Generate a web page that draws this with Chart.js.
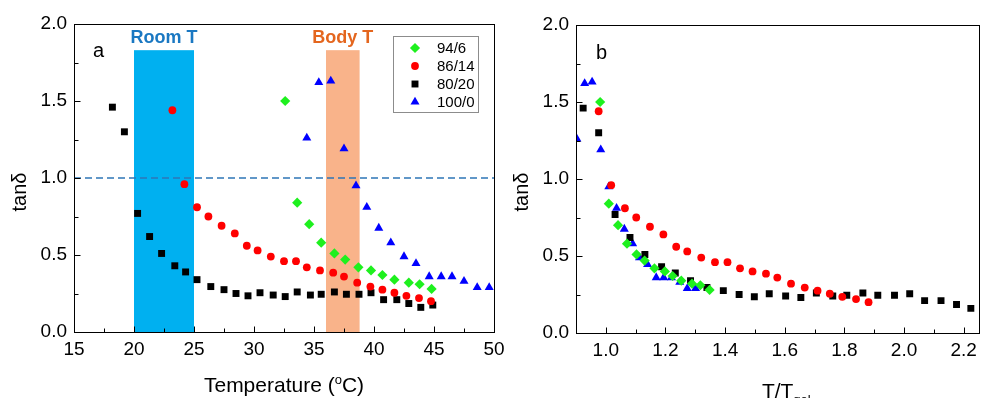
<!DOCTYPE html>
<html>
<head>
<meta charset="utf-8">
<script src="https://cdn.jsdelivr.net/npm/chart.js@4.4.0/dist/chart.umd.min.js"></script>
<style>
  body { margin: 0; background: #fff; width: 983px; height: 398px; position: relative; overflow: hidden; }
  canvas { position: absolute; top: 0; }
  #left { left: 0; }
  #right { left: 500px; }
</style>
</head>
<body>
<canvas id="left" width="520" height="398"></canvas>
<canvas id="right" width="483" height="398"></canvas>
<script>
// series labels (legend order)
const seriesNames = ['94/6', '86/14', '80/20', '100/0'];

// panel a: tan delta vs temperature (°C)
const temp94 = [32.6, 33.6, 34.6, 35.6, 36.7, 37.6, 38.7, 39.75, 40.7, 41.7, 42.9, 43.8, 44.8];
const tan94 = [1.50, 0.84, 0.70, 0.58, 0.51, 0.47, 0.42, 0.40, 0.37, 0.34, 0.32, 0.31, 0.28];

const temp86 = [23.2, 24.2, 25.25, 26.2, 27.3, 28.4, 29.4, 30.3, 31.4, 32.5, 33.5, 34.4, 35.5, 36.6, 37.5, 38.6, 39.7, 40.7, 41.7, 42.7, 43.75, 44.75];
const tan86 = [1.44, 0.96, 0.81, 0.75, 0.69, 0.64, 0.56, 0.53, 0.49, 0.46, 0.46, 0.42, 0.40, 0.385, 0.36, 0.32, 0.295, 0.275, 0.255, 0.235, 0.22, 0.20];

const temp80 = [18.2, 19.2, 20.3, 21.3, 22.3, 23.4, 24.3, 25.25, 26.4, 27.5, 28.5, 29.5, 30.5, 31.6, 32.6, 33.6, 34.7, 35.6, 36.7, 37.7, 38.75, 39.75, 40.8, 41.9, 42.9, 43.9, 44.9];
const tan80 = [1.46, 1.30, 0.77, 0.62, 0.51, 0.43, 0.39, 0.34, 0.295, 0.275, 0.25, 0.235, 0.255, 0.24, 0.23, 0.26, 0.24, 0.245, 0.26, 0.245, 0.245, 0.255, 0.21, 0.21, 0.185, 0.16, 0.175];

const temp100 = [34.4, 35.4, 36.4, 37.5, 38.5, 39.4, 40.4, 41.4, 42.5, 43.5, 44.6, 45.6, 46.5, 47.5, 48.6, 49.6];
const tan100 = [1.26, 1.62, 1.63, 1.19, 0.95, 0.81, 0.675, 0.58, 0.49, 0.445, 0.36, 0.36, 0.36, 0.33, 0.29, 0.29];

// panel b: same tan delta vs T/Tgel
const ratio94 = [0.981, 1.01, 1.041, 1.071, 1.103, 1.13, 1.163, 1.198, 1.224, 1.253, 1.289, 1.317, 1.348];
const ratio86 = [0.976, 1.018, 1.064, 1.102, 1.148, 1.193, 1.236, 1.273, 1.32, 1.366, 1.408, 1.45, 1.492, 1.537, 1.575, 1.621, 1.667, 1.71, 1.751, 1.793, 1.839, 1.881];
const ratio80 = [0.924, 0.976, 1.031, 1.081, 1.131, 1.187, 1.233, 1.284, 1.339, 1.394, 1.447, 1.498, 1.548, 1.603, 1.654, 1.706, 1.761, 1.808, 1.862, 1.912, 1.968, 2.019, 2.069, 2.124, 2.176, 2.224];
const ratio100 = [0.903, 0.929, 0.954, 0.983, 1.01, 1.036, 1.062, 1.09, 1.113, 1.14, 1.169, 1.194, 1.22, 1.248, 1.273, 1.301];

// axis ticks
const tempTicks = [15, 20, 25, 30, 35, 40, 45, 50];
const ratioTicks = [1.0, 1.2, 1.4, 1.6, 1.8, 2.0, 2.2];
const tanTicks = [0, 0.5, 1.0, 1.5, 2.0];

// shaded ranges in panel a
const roomRange = [20, 25];
const bodyRange = [36, 38.8];
const rangeTop = 1.83;
const refLevel = 1.0;

const FONT = '"Liberation Sans", Arial, sans-serif';
Chart.defaults.font.family = FONT;
Chart.defaults.color = '#000';

const styles = [
  { color: '#1ef01e', pointStyle: 'rectRot', radius: 5.1 },
  { color: '#ff0000', pointStyle: 'circle', radius: 3.9 },
  { color: '#000000', pointStyle: 'rect', radius: 4.9 },
  { color: '#0000ff', pointStyle: 'triangle', radius: 5.2 }
];

function pts(xs, ys) {
  return xs.map((v, i) => ({ x: v, y: ys[i] }));
}

function seriesSets(xLists) {
  const yLists = [tan94, tan86, tan80, tan100];
  return xLists.map((xs, i) => ({
    label: seriesNames[i],
    data: pts(xs, yLists[i]),
    pointStyle: styles[i].pointStyle,
    pointRadius: styles[i].radius,
    pointBackgroundColor: styles[i].color,
    pointBorderColor: styles[i].color,
    pointBorderWidth: 0,
    backgroundColor: styles[i].color,
    borderColor: styles[i].color
  }));
}

// box, inward ticks, titles, shaded bands, legend
const decor = {
  id: 'decor',
  beforeDatasetsDraw(chart, args, o) {
    const ctx = chart.ctx, x = chart.scales.x, y = chart.scales.y;
    ctx.save();
    (o.bands || []).forEach(b => {
      const x0 = x.getPixelForValue(b.range[0]), x1 = x.getPixelForValue(b.range[1]);
      const y0 = y.getPixelForValue(rangeTop), y1 = y.getPixelForValue(0);
      ctx.fillStyle = b.fill;
      ctx.fillRect(x0, y0, x1 - x0, y1 - y0);
      ctx.fillStyle = b.textColor;
      ctx.font = 'bold 18px ' + FONT;
      ctx.textAlign = 'center';
      ctx.textBaseline = 'alphabetic';
      ctx.fillText(b.text, (x0 + x1) / 2, y0 - 7);
    });
    ctx.restore();
  },
  afterDraw(chart, args, o) {
    const ctx = chart.ctx, a = chart.chartArea, x = chart.scales.x, y = chart.scales.y;
    ctx.save();
    ctx.strokeStyle = '#000';
    ctx.lineWidth = 1;
    const L = Math.round(a.left) + 0.5, R = Math.round(a.right) + 0.5;
    const T = Math.round(a.top) + 0.5, B = Math.round(a.bottom) + 0.5;
    ctx.strokeRect(L, T, R - L, B - T);

    const xt = o.xTicks, yt = tanTicks;
    ctx.beginPath();
    xt.forEach((v, i) => {
      const px = Math.round(x.getPixelForValue(v)) + 0.5;
      ctx.moveTo(px, B); ctx.lineTo(px, B - 6);
      if (i < xt.length - 1) {
        const mx = Math.round(x.getPixelForValue((v + xt[i + 1]) / 2)) + 0.5;
        ctx.moveTo(mx, B); ctx.lineTo(mx, B - 4);
      }
    });
    yt.forEach((v, i) => {
      const py = Math.round(y.getPixelForValue(v)) + 0.5;
      ctx.moveTo(L, py); ctx.lineTo(L + 6, py);
      if (i < yt.length - 1) {
        const my = Math.round(y.getPixelForValue((v + yt[i + 1]) / 2)) + 0.5;
        ctx.moveTo(L, my); ctx.lineTo(L + 4, my);
      }
    });
    ctx.stroke();

    ctx.fillStyle = '#000';
    // panel letter
    ctx.font = '20px ' + FONT;
    ctx.textAlign = 'left';
    ctx.textBaseline = 'alphabetic';
    ctx.fillText(o.letter, a.left + o.letterDx, a.top + o.letterDy);

    // y title
    ctx.save();
    ctx.translate(a.left - 48, 192);
    ctx.rotate(-Math.PI / 2);
    ctx.textAlign = 'center';
    ctx.fillText('tanδ', 0, 0);
    ctx.restore();

    // x title with super/subscript
    const parts = o.xTitle;
    let w = 0;
    parts.forEach(p => { ctx.font = p.size + 'px ' + FONT; w += ctx.measureText(p.t).width; });
    let cx = (a.left + a.right) / 2 - w / 2 + (o.titleDx || 0);
    parts.forEach(p => {
      ctx.font = p.size + 'px ' + FONT;
      ctx.fillText(p.t, cx, o.titleY + (p.dy || 0));
      cx += ctx.measureText(p.t).width;
    });

    // legend
    if (o.legend) {
      const lg = o.legend;
      ctx.fillStyle = '#fff';
      ctx.fillRect(lg.x, lg.y, lg.w, lg.h);
      ctx.strokeStyle = '#8c8c8c';
      ctx.strokeRect(lg.x + 0.5, lg.y + 0.5, lg.w, lg.h);
      ctx.font = '15px ' + FONT;
      ctx.textBaseline = 'middle';
      seriesNames.forEach((name, i) => {
        const ry = lg.y + 12 + i * 18;
        ctx.fillStyle = styles[i].color;
        ctx.strokeStyle = styles[i].color;
        ctx.lineWidth = 0;
        Chart.helpers.drawPoint(ctx, { pointStyle: styles[i].pointStyle, radius: styles[i].radius, rotation: 0, borderWidth: 0 }, lg.x + 22, ry);
        ctx.fillStyle = '#000';
        ctx.fillText(name, lg.x + 44, ry + 1);
      });
    }
    ctx.restore();
  }
};

function makeChart(id, sets, xr, xTicks, xFmt, size, decorOpts) {
  return new Chart(document.getElementById(id), {
    type: 'scatter',
    data: { datasets: sets },
    plugins: [decor],
    options: {
      responsive: false,
      animation: false,
      layout: { autoPadding: false, padding: size.padding },
      plugins: { legend: { display: false }, tooltip: { enabled: false }, decor: decorOpts },
      scales: {
        x: {
          type: 'linear', min: xr[0], max: xr[1],
          grid: { display: false, drawTicks: false },
          border: { display: false },
          afterBuildTicks: s => { s.ticks = xTicks.map(v => ({ value: v })); },
          afterFit: s => { s.height = size.xh; },
          ticks: { font: { size: 19 }, padding: 6, maxRotation: 0, autoSkip: false, callback: xFmt }
        },
        y: {
          type: 'linear', min: 0, max: 2,
          grid: { display: false, drawTicks: false },
          border: { display: false },
          afterBuildTicks: s => { s.ticks = tanTicks.map(v => ({ value: v })); },
          afterFit: s => { s.width = size.yw; },
          ticks: { font: { size: 19 }, padding: 7, autoSkip: false, callback: v => v.toFixed(1) }
        }
      }
    }
  });
}

const setsA = seriesSets([temp94, temp86, temp80, temp100]);
setsA.push({
  label: '',
  data: [{ x: tempTicks[0], y: refLevel }, { x: tempTicks[tempTicks.length - 1], y: refLevel }],
  showLine: true, pointRadius: 0,
  borderColor: '#2e75b6', borderWidth: 1.5, borderDash: [7, 4]
});

makeChart('left', setsA, [15, 50], tempTicks, v => v,
  { padding: { top: 24, right: 26, left: 0, bottom: 0 }, xh: 66, yw: 74 },
  {
    letter: 'a', letterDx: 19, letterDy: 33,
    xTicks: tempTicks,
    xTitle: [{ t: 'Temperature (', size: 21 }, { t: 'o', size: 13, dy: -8 }, { t: 'C)', size: 21 }],
    titleY: 392,
    bands: [
      { range: roomRange, fill: '#00b0f0', text: 'Room T', textColor: '#1a78c2' },
      { range: bodyRange, fill: '#f9b38a', text: 'Body T', textColor: '#e4661e' }
    ],
    legend: { x: 393, y: 36, w: 85, h: 76 }
  });

makeChart('right', seriesSets([ratio94, ratio86, ratio80, ratio100]), [0.9, 2.25], ratioTicks, v => v.toFixed(1),
  { padding: { top: 25, right: 3, left: 0, bottom: 0 }, xh: 65, yw: 76 },
  {
    letter: 'b', letterDx: 20, letterDy: 34,
    xTicks: ratioTicks,
    xTitle: [{ t: 'T/T', size: 21 }, { t: 'gel', size: 13, dy: 6 }],
    titleY: 398, titleDx: 9
  });
</script>
</body>
</html>
